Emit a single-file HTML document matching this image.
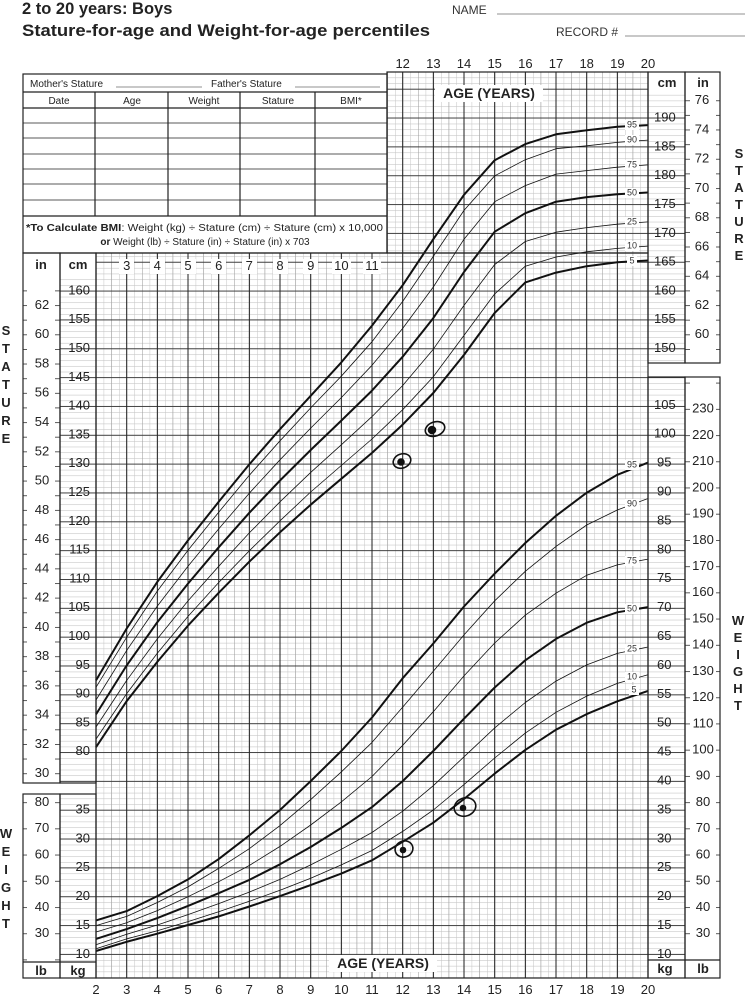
<!DOCTYPE html>
<html><head><meta charset="utf-8"><style>
html,body{margin:0;padding:0;background:#fff;}
svg{display:block;font-family:"Liberation Sans",sans-serif;}
.t{font-size:13px;fill:#222;}
.s{font-size:10px;fill:#222;}
.p{font-size:9px;fill:#333;}
.b{font-weight:bold;}
</style></head><body>
<svg width="745" height="998" viewBox="0 0 745 998" xmlns="http://www.w3.org/2000/svg">
<defs>
<pattern id="hm" patternUnits="userSpaceOnUse" x="0" y="291" width="10" height="5.768"><rect x="0" y="0" width="10" height="0.5" fill="#bbb"/></pattern>
<pattern id="hM" patternUnits="userSpaceOnUse" x="0" y="290.6" width="10" height="28.84"><rect x="0" y="0" width="10" height="0.9" fill="#333"/></pattern>
<pattern id="vm" patternUnits="userSpaceOnUse" x="96" y="0" width="7.6667" height="10"><rect x="0" y="0" width="0.5" height="10" fill="#c4c4c4"/></pattern>
<pattern id="vh" patternUnits="userSpaceOnUse" x="96" y="0" width="15.3333" height="10"><rect x="0" y="0" width="0.5" height="10" fill="#999"/></pattern>
<pattern id="vM" patternUnits="userSpaceOnUse" x="95.5" y="0" width="30.6667" height="10"><rect x="0" y="0" width="1" height="10" fill="#222"/></pattern>
<pattern id="inL" patternUnits="userSpaceOnUse" x="23" y="305.1" width="37" height="14.63"><rect x="32" y="0" width="5" height="0.8" fill="#333"/><rect x="0" y="0" width="4" height="0.8" fill="#333"/></pattern>
<pattern id="inR" patternUnits="userSpaceOnUse" x="685" y="100.3" width="35" height="14.63"><rect x="0" y="0" width="5" height="0.8" fill="#333"/><rect x="31" y="0" width="4" height="0.8" fill="#333"/></pattern>
<pattern id="lbR" patternUnits="userSpaceOnUse" x="685" y="408.9" width="35" height="26.218"><rect x="0" y="0" width="5" height="0.8" fill="#333"/><rect x="31" y="0" width="4" height="0.8" fill="#333"/></pattern>
<pattern id="lbL" patternUnits="userSpaceOnUse" x="23" y="802.2" width="37" height="26.218"><rect x="32" y="0" width="5" height="0.8" fill="#333"/><rect x="0" y="0" width="4" height="0.8" fill="#333"/></pattern>
</defs>
<rect width="745" height="998" fill="#fff"/>
<!-- grid -->
<g>
<rect x="96" y="253" width="552" height="725" fill="url(#hm)"/>
<rect x="387" y="72" width="261" height="181" fill="url(#hm)"/>
<rect x="96" y="253" width="552" height="725" fill="url(#vm)"/>
<rect x="387" y="72" width="261" height="181" fill="url(#vm)"/>
<rect x="96" y="253" width="552" height="725" fill="url(#vh)"/>
<rect x="387" y="72" width="261" height="181" fill="url(#vh)"/>
<rect x="96" y="253" width="552" height="725" fill="url(#hM)"/>
<rect x="387" y="72" width="261" height="181" fill="url(#hM)"/>
<rect x="95.5" y="253" width="553" height="725" fill="url(#vM)"/>
<rect x="387" y="72" width="262" height="181" fill="url(#vM)"/>
<rect x="60" y="278" width="36" height="505" fill="url(#hm)"/>
<rect x="60" y="794" width="36" height="168" fill="url(#hm)"/>
<rect x="648" y="90" width="37" height="273" fill="url(#hm)"/>
<rect x="648" y="377" width="37" height="583" fill="url(#hm)"/>
<rect x="60" y="278" width="36" height="505" fill="url(#hM)"/>
<rect x="60" y="794" width="36" height="168" fill="url(#hM)"/>
<rect x="648" y="90" width="37" height="273" fill="url(#hM)"/>
<rect x="648" y="377" width="37" height="583" fill="url(#hM)"/>
<rect x="23" y="278" width="37" height="505" fill="url(#inL)"/>
<rect x="685" y="90" width="35" height="273" fill="url(#inR)"/>
<rect x="685" y="377" width="35" height="583" fill="url(#lbR)"/>
<rect x="23" y="794" width="37" height="168" fill="url(#lbL)"/>
</g>
<!-- curves -->
<g fill="none" stroke="#111" stroke-linejoin="round">
<polyline stroke-width="2" points="96,747.2 126.7,701.1 157.3,661.9 188,625.6 218.7,592.8 249.3,561.7 280,532.3 310.7,504.7 341.3,478.8 372,452.9 402.7,424.6 433.3,393 464,354.9 494.7,312.9 525.3,282.4 556,272.6 586.7,266.2 617.3,262.2 648,260.5"/>
<polyline stroke-width="0.8" points="96,739.1 126.7,693.6 157.3,653.3 188,616.4 218.7,582.5 249.3,550.8 280,520.8 310.7,492 341.3,465.5 372,439 402.7,409.7 433.3,376.8 464,335.4 494.7,293.9 525.3,266.2 556,257 586.7,251.8 617.3,248.4 648,246.1"/>
<polyline stroke-width="0.8" points="96,727 126.7,680.4 157.3,638.9 188,600.9 218.7,566.3 249.3,532.9 280,501.8 310.7,472.4 341.3,444.8 372,416.6 402.7,385.5 433.3,349.2 464,305.4 494.7,264.5 525.3,241.5 556,232.2 586.7,227.6 617.3,224.2 648,221.9"/>
<polyline stroke-width="2" points="96,714.4 126.7,665.4 157.3,622.2 188,583.6 218.7,547.3 249.3,512.8 280,480.5 310.7,450 341.3,420.6 372,390.6 402.7,356.7 433.3,318.1 464,272 494.7,231.7 525.3,213.2 556,201.7 586.7,197.1 617.3,194.2 648,192.5"/>
<polyline stroke-width="0.8" points="96,700 126.7,650.4 157.3,606.1 188,566.3 218.7,528.9 249.3,493.2 280,459.8 310.7,428.1 341.3,397.6 372,365.3 402.7,328.4 433.3,287 464,239.2 494.7,201.7 525.3,185.6 556,174.1 586.7,170.6 617.3,167.2 648,164.9"/>
<polyline stroke-width="0.8" points="96,687.3 126.7,637.2 157.3,591.1 188,550.2 218.7,512.2 249.3,475.3 280,440.8 310.7,407.9 341.3,376.2 372,341.7 402.7,301.4 433.3,256.4 464,210.4 494.7,175.8 525.3,159.7 556,148.7 586.7,145.8 617.3,142.4 648,140.1"/>
<polyline stroke-width="2" points="96,680.4 126.7,628.5 157.3,581.9 188,540.4 218.7,501.8 249.3,464.4 280,429.2 310.7,395.8 341.3,362.4 372,325.6 402.7,285.2 433.3,239.2 464,194.8 494.7,160.2 525.3,144.1 556,134.3 586.7,130.3 617.3,126.8 648,125.1"/>

<polyline stroke-width="2" points="96,951 126.7,941.8 157.3,933.7 188,925 218.7,916.4 249.3,906.5 280,896.1 310.7,885.1 341.3,873.6 372,860.3 402.7,841.8 433.3,822.7 464,799 494.7,773.6 525.3,749.9 556,729.7 586.7,714.1 617.3,701.3 648,690.9"/>
<polyline stroke-width="0.8" points="96,948.7 126.7,938.9 157.3,930.8 188,921.6 218.7,911.7 249.3,901.3 280,890.3 310.7,878.2 341.3,864.9 372,850.5 402.7,831.4 433.3,810 464,784.6 494.7,758 525.3,733.1 556,712.3 586.7,696.1 617.3,683.4 648,674.7"/>
<polyline stroke-width="0.8" points="96,944.7 126.7,934.3 157.3,925 188,914.6 218.7,903.6 249.3,892.1 280,879.4 310.7,864.9 341.3,849.3 372,832.5 402.7,811.2 433.3,785.7 464,756.8 494.7,727.9 525.3,702.5 556,681.1 586.7,664.9 617.3,653.4 648,647"/>
<polyline stroke-width="2" points="96,938.9 126.7,929.1 157.3,918.1 188,905.9 218.7,893.2 249.3,879.9 280,864.3 310.7,847 341.3,827.9 372,807.1 402.7,781.1 433.3,751 464,718.7 494.7,687.5 525.3,660.3 556,638.9 586.7,622.7 617.3,612.3 648,607.1"/>
<polyline stroke-width="0.8" points="96,932 126.7,922.7 157.3,910.6 188,896.7 218.7,881.7 249.3,865.5 280,846.4 310.7,825 341.3,801.9 372,776.5 402.7,745.3 433.3,711.7 464,675.9 494.7,643 525.3,615.2 556,593.2 586.7,575.3 617.3,564.9 648,559.1"/>
<polyline stroke-width="0.8" points="96,925.6 126.7,916.4 157.3,902.5 188,886.9 218.7,868.4 249.3,848.7 280,825.6 310.7,799.6 341.3,771.9 372,742.4 402.7,707.1 433.3,671.3 464,634.9 494.7,600.8 525.3,571.3 556,546.4 586.7,525 617.3,510 648,498.5"/>
<polyline stroke-width="2" points="96,920.4 126.7,911.1 157.3,896.1 188,879.4 218.7,859.1 249.3,835.4 280,810 310.7,781.1 341.3,751 372,717.5 402.7,678.2 433.3,643.5 464,606.5 494.7,573.6 525.3,543 556,515.8 586.7,492.7 617.3,474.8 648,462.6"/>
</g>
<!-- frame -->
<g fill="none" stroke="#222" stroke-width="1.2">
<rect x="23" y="74" width="364" height="179" fill="#fff"/>
<line x1="23" y1="92" x2="387" y2="92"/><line x1="23" y1="108" x2="387" y2="108"/>
<line x1="23" y1="123" x2="387" y2="123" stroke-width=".8"/><line x1="23" y1="138" x2="387" y2="138" stroke-width=".8"/>
<line x1="23" y1="154" x2="387" y2="154" stroke-width=".8"/><line x1="23" y1="169" x2="387" y2="169" stroke-width=".8"/>
<line x1="23" y1="184" x2="387" y2="184" stroke-width=".8"/><line x1="23" y1="200" x2="387" y2="200" stroke-width=".8"/>
<line x1="23" y1="216" x2="387" y2="216"/>
<line x1="95" y1="92" x2="95" y2="216"/><line x1="168" y1="92" x2="168" y2="216"/><line x1="240" y1="92" x2="240" y2="216"/><line x1="315" y1="92" x2="315" y2="216"/>
<line x1="116" y1="87" x2="202" y2="87" stroke-width=".6"/><line x1="295" y1="87" x2="380" y2="87" stroke-width=".6"/>
<rect x="23" y="253" width="37" height="530"/><rect x="60" y="253" width="36" height="530"/>
<rect x="23" y="794" width="37" height="184"/><rect x="60" y="794" width="36" height="184"/>
<line x1="23" y1="962" x2="96" y2="962"/>
<rect x="96" y="253" width="552" height="725"/>
<rect x="387" y="72" width="261" height="181"/>
<rect x="648" y="72" width="37" height="291"/><rect x="685" y="72" width="35" height="291"/>
<rect x="648" y="377" width="37" height="601"/><rect x="685" y="377" width="35" height="601"/>
<line x1="648" y1="960" x2="720" y2="960"/>
<line x1="497" y1="14" x2="745" y2="14" stroke-width=".6"/>
<line x1="625" y1="36" x2="745" y2="36" stroke-width=".6"/>
</g>
<!-- white label backgrounds -->
<g fill="#fff">
<rect x="88" y="80" width="300" height="0" />
<rect x="625" y="120" width="14" height="10"/><rect x="625" y="135" width="14" height="10"/><rect x="625" y="160" width="14" height="10"/><rect x="625" y="188" width="14" height="10"/><rect x="625" y="217" width="14" height="10"/><rect x="625" y="241" width="14" height="10"/><rect x="627" y="256" width="10" height="10"/>
<rect x="625" y="460" width="14" height="10"/><rect x="625" y="499" width="14" height="10"/><rect x="625" y="556" width="14" height="10"/><rect x="625" y="604" width="14" height="10"/><rect x="625" y="644" width="14" height="10"/><rect x="625" y="672" width="14" height="10"/><rect x="629" y="685" width="10" height="10"/>
<rect x="435" y="85" width="108" height="17"/>
<rect x="329" y="955" width="108" height="17"/>
<rect x="119" y="259" width="15" height="15"/><rect x="150" y="259" width="15" height="15"/><rect x="181" y="259" width="15" height="15"/><rect x="211" y="259" width="15" height="15"/><rect x="242" y="259" width="15" height="15"/><rect x="273" y="259" width="15" height="15"/><rect x="303" y="259" width="15" height="15"/><rect x="332" y="259" width="19" height="15"/><rect x="363" y="259" width="18" height="15"/>
</g>
<!-- titles -->
<text x="22" y="14" class="b" font-size="16.5" fill="#222">2 to 20 years: Boys</text>
<text x="22" y="36" class="b" font-size="16.5" fill="#222" textLength="408" lengthAdjust="spacingAndGlyphs">Stature-for-age and Weight-for-age percentiles</text>
<text x="452" y="14" font-size="12" fill="#333">NAME</text>
<text x="556" y="36" font-size="12" fill="#333">RECORD #</text>
<text x="30" y="87" class="s">Mother's Stature</text><text x="211" y="87" class="s">Father's Stature</text>
<g class="s" text-anchor="middle"><text x="59" y="104">Date</text><text x="132" y="104">Age</text><text x="204" y="104">Weight</text><text x="278" y="104">Stature</text><text x="351" y="104">BMI*</text></g>
<text x="26" y="231" class="s" textLength="357" lengthAdjust="spacingAndGlyphs"><tspan class="b">*To Calculate BMI</tspan>: Weight (kg) ÷ Stature (cm) ÷ Stature (cm) x 10,000</text>
<text x="205" y="245" class="s" text-anchor="middle"><tspan class="b">or</tspan> Weight (lb) ÷ Stature (in) ÷ Stature (in) x 703</text>
<text x="41" y="269" class="t b" text-anchor="middle" font-size="14">in</text>
<text x="78" y="269" class="t b" text-anchor="middle" font-size="14">cm</text>
<text x="667" y="87" class="t b" text-anchor="middle" font-size="14">cm</text>
<text x="703" y="87" class="t b" text-anchor="middle" font-size="14">in</text>
<text x="41" y="975" class="t b" text-anchor="middle" font-size="14">lb</text>
<text x="78" y="975" class="t b" text-anchor="middle" font-size="14">kg</text>
<text x="665" y="973" class="t b" text-anchor="middle" font-size="14">kg</text>
<text x="703" y="973" class="t b" text-anchor="middle" font-size="14">lb</text>
<text x="489" y="98" class="b" font-size="14" fill="#222" text-anchor="middle">AGE (YEARS)</text>
<text x="383" y="968" class="b" font-size="14" fill="#222" text-anchor="middle">AGE (YEARS)</text>
<g class="t" text-anchor="middle" font-size="14">
<text x="402.7" y="68">12</text><text x="433.4" y="68">13</text><text x="464" y="68">14</text><text x="494.7" y="68">15</text><text x="525.4" y="68">16</text><text x="556" y="68">17</text><text x="586.7" y="68">18</text><text x="617.4" y="68">19</text><text x="648" y="68">20</text>
<text x="126.7" y="270">3</text><text x="157.3" y="270">4</text><text x="188" y="270">5</text><text x="218.7" y="270">6</text><text x="249.3" y="270">7</text><text x="280" y="270">8</text><text x="310.7" y="270">9</text><text x="341.4" y="270">10</text><text x="372" y="270">11</text>
<text x="96" y="994">2</text><text x="126.7" y="994">3</text><text x="157.3" y="994">4</text><text x="188" y="994">5</text><text x="218.7" y="994">6</text><text x="249.3" y="994">7</text><text x="280" y="994">8</text><text x="310.7" y="994">9</text><text x="341.4" y="994">10</text><text x="372" y="994">11</text><text x="402.7" y="994">12</text><text x="433.4" y="994">13</text><text x="464" y="994">14</text><text x="494.7" y="994">15</text><text x="525.4" y="994">16</text><text x="556" y="994">17</text><text x="586.7" y="994">18</text><text x="617.4" y="994">19</text><text x="648" y="994">20</text>
</g>
<g class="t" text-anchor="end" dominant-baseline="middle">
<text x="90" y="291">160</text><text x="90" y="319.8">155</text><text x="90" y="348.6">150</text><text x="90" y="377.4">145</text><text x="90" y="406.2">140</text><text x="90" y="435">135</text><text x="90" y="463.8">130</text><text x="90" y="492.6">125</text><text x="90" y="521.4">120</text><text x="90" y="550.2">115</text><text x="90" y="579">110</text><text x="90" y="607.8">105</text><text x="90" y="636.6">100</text><text x="90" y="665.4">95</text><text x="90" y="694.2">90</text><text x="90" y="723">85</text><text x="90" y="751.8">80</text>
<text x="90" y="810">35</text><text x="90" y="838.9">30</text><text x="90" y="867.8">25</text><text x="90" y="896.7">20</text><text x="90" y="925.6">15</text><text x="90" y="954.5">10</text>
</g>
<g class="t" text-anchor="middle" dominant-baseline="middle">
<text x="42" y="305.5">62</text><text x="42" y="334.8">60</text><text x="42" y="364.1">58</text><text x="42" y="393.3">56</text><text x="42" y="422.6">54</text><text x="42" y="451.9">52</text><text x="42" y="481.1">50</text><text x="42" y="510.4">48</text><text x="42" y="539.6">46</text><text x="42" y="568.9">44</text><text x="42" y="598.1">42</text><text x="42" y="627.4">40</text><text x="42" y="656.7">38</text><text x="42" y="685.9">36</text><text x="42" y="715.2">34</text><text x="42" y="744.4">32</text><text x="42" y="773.7">30</text>
<text x="42" y="802.6">80</text><text x="42" y="828.8">70</text><text x="42" y="855">60</text><text x="42" y="881.2">50</text><text x="42" y="907.4">40</text><text x="42" y="933.8">30</text>
<text x="702" y="100.7">76</text><text x="702" y="130">74</text><text x="702" y="159.2">72</text><text x="702" y="188.5">70</text><text x="702" y="217.8">68</text><text x="702" y="247">66</text><text x="702" y="276.3">64</text><text x="702" y="305.5">62</text><text x="702" y="334.8">60</text>
<text x="703" y="409.3">230</text><text x="703" y="435.5">220</text><text x="703" y="461.7">210</text><text x="703" y="487.9">200</text><text x="703" y="514.2">190</text><text x="703" y="540.4">180</text><text x="703" y="566.6">170</text><text x="703" y="592.8">160</text><text x="703" y="619">150</text><text x="703" y="645.3">140</text><text x="703" y="671.5">130</text><text x="703" y="697.7">120</text><text x="703" y="723.9">110</text><text x="703" y="750.1">100</text><text x="703" y="776.3">90</text><text x="703" y="802.6">80</text><text x="703" y="828.8">70</text><text x="703" y="855">60</text><text x="703" y="881.2">50</text><text x="703" y="907.4">40</text><text x="703" y="933.8">30</text>
</g>
<g class="t" text-anchor="start" dominant-baseline="middle">
<text x="654" y="118.2">190</text><text x="654" y="147">185</text><text x="654" y="175.8">180</text><text x="654" y="204.6">175</text><text x="654" y="233.4">170</text><text x="654" y="262.2">165</text><text x="654" y="291">160</text><text x="654" y="319.8">155</text><text x="654" y="348.6">150</text>
<text x="654" y="405.4">105</text><text x="654" y="434.3">100</text><text x="657" y="463.2">95</text><text x="657" y="492.1">90</text><text x="657" y="521">85</text><text x="657" y="549.9">80</text><text x="657" y="578.8">75</text><text x="657" y="607.7">70</text><text x="657" y="636.6">65</text><text x="657" y="665.5">60</text><text x="657" y="694.4">55</text><text x="657" y="723.3">50</text><text x="657" y="752.2">45</text><text x="657" y="781.1">40</text><text x="657" y="810">35</text><text x="657" y="838.9">30</text><text x="657" y="867.8">25</text><text x="657" y="896.7">20</text><text x="657" y="925.6">15</text><text x="657" y="954.5">10</text>
</g>
<g class="b" font-size="13" fill="#222" text-anchor="middle">
<text x="6" y="335">S</text><text x="6" y="353">T</text><text x="6" y="371">A</text><text x="6" y="389">T</text><text x="6" y="407">U</text><text x="6" y="425">R</text><text x="6" y="443">E</text>
<text x="6" y="838">W</text><text x="6" y="856">E</text><text x="6" y="874">I</text><text x="6" y="892">G</text><text x="6" y="910">H</text><text x="6" y="928">T</text>
<text x="739" y="158">S</text><text x="739" y="175">T</text><text x="739" y="192">A</text><text x="739" y="209">T</text><text x="739" y="226">U</text><text x="739" y="243">R</text><text x="739" y="260">E</text>
<text x="738" y="625">W</text><text x="738" y="642">E</text><text x="738" y="659">I</text><text x="738" y="676">G</text><text x="738" y="693">H</text><text x="738" y="710">T</text>
</g>
<g class="p" text-anchor="middle" dominant-baseline="middle">
<text x="632" y="125">95</text><text x="632" y="140">90</text><text x="632" y="165">75</text><text x="632" y="193">50</text><text x="632" y="222">25</text><text x="632" y="246">10</text><text x="632" y="261">5</text>
<text x="632" y="465">95</text><text x="632" y="504">90</text><text x="632" y="561">75</text><text x="632" y="609">50</text><text x="632" y="649">25</text><text x="632" y="677">10</text><text x="634" y="690">5</text>
</g>
<g fill="none" stroke="#111" stroke-width="1.6">
<ellipse cx="402" cy="461" rx="9" ry="7" transform="rotate(-20 402 461)"/><circle cx="401" cy="462" r="3" fill="#111"/>
<ellipse cx="435" cy="429" rx="10" ry="7" transform="rotate(-20 435 429)"/><circle cx="432" cy="430" r="3.5" fill="#111"/>
<ellipse cx="404" cy="849" rx="9" ry="8" transform="rotate(-20 404 849)"/><circle cx="403" cy="850" r="2.5" fill="#111"/>
<ellipse cx="465" cy="807" rx="11" ry="9" transform="rotate(-20 465 807)"/><circle cx="463" cy="808" r="2.5" fill="#111"/>
</g>
</svg>
</body></html>
